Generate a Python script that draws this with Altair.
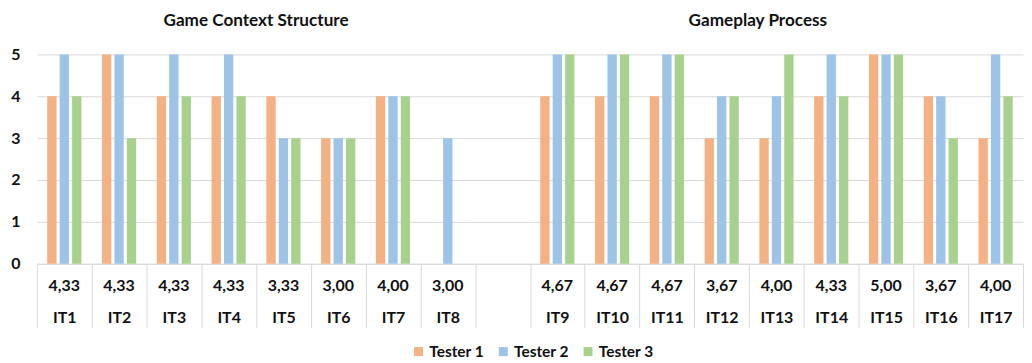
import altair as alt
import pandas as pd

items = ["IT1", "IT2", "IT3", "IT4", "IT5", "IT6", "IT7", "IT8",
         "IT9", "IT10", "IT11", "IT12", "IT13", "IT14", "IT15", "IT16", "IT17"]
tester1 = [4, 5, 4, 4, 4, 3, 4, None, 4, 4, 4, 3, 3, 4, 5, 4, 3]
tester2 = [5, 5, 5, 5, 3, 3, 4, 3, 5, 5, 5, 4, 4, 5, 5, 4, 5]
tester3 = [4, 3, 4, 4, 3, 3, 4, None, 5, 5, 5, 4, 5, 4, 5, 3, 4]
averages = ["4,33", "4,33", "4,33", "4,33", "3,33", "3,00", "4,00", "3,00",
            "4,67", "4,67", "4,67", "3,67", "4,00", "4,33", "5,00", "3,67", "4,00"]
testers = ["Tester 1", "Tester 2", "Tester 3"]
colors = ["#F4B183", "#9DC3E6", "#A9D18E"]
group_titles = ["Game Context Structure", "Gameplay Process"]
group_anchor = ["IT5", "IT13"]
group_band = [0.0, 0.16]

FONT = "Lato"
GRID = "#D9D9D9"
TXT = "#111111"

rows = []
for i, it in enumerate(items):
    for name, vals in zip(testers, [tester1, tester2, tester3]):
        if vals[i] is not None:
            rows.append({"item": it, "tester": name, "score": vals[i]})
bars_df = pd.DataFrame(rows)
avg_df = pd.DataFrame({"item": items, "avg": averages})

domain = items[:8] + [" "] + items[8:]

xscale = alt.Scale(domain=domain, paddingInner=0, paddingOuter=0)
yscale = alt.Scale(domain=[0, 5], nice=False)

bars = alt.Chart(bars_df).mark_bar().encode(
    x=alt.X("item:N", scale=xscale, sort=domain,
            axis=alt.Axis(title=None, tickBand="extent", tickSize=64, tickColor=GRID,
                          tickWidth=1, domainColor=GRID, labelPadding=-10,
                          labelBaseline="middle", labelFont=FONT, labelFontWeight="bold",
                          labelFontSize=16, labelColor=TXT, labelAngle=0, grid=False)),
    xOffset=alt.XOffset("tester:N", sort=testers,
                        scale=alt.Scale(paddingInner=0.25, paddingOuter=0.83)),
    y=alt.Y("score:Q", scale=yscale,
            axis=alt.Axis(title=None, values=[0, 1, 2, 3, 4, 5], domain=False, ticks=False,
                          labelPadding=17, gridColor=GRID, labelFont=FONT,
                          labelFontWeight="bold", labelFontSize=16, labelColor=TXT,
                          format="d")),
    color=alt.Color("tester:N", scale=alt.Scale(domain=testers, range=colors),
                    legend=alt.Legend(title=None, orient="none", legendX=375, legendY=290,
                                      direction="horizontal", symbolType="square",
                                      symbolSize=81, symbolStrokeWidth=0,
                                      labelFont=FONT, labelFontWeight="bold",
                                      labelFontSize=15.5, labelColor=TXT, labelOffset=3,
                                      columnPadding=11)),
)

avg_text = alt.Chart(avg_df).mark_text(font=FONT, fontWeight="bold", fontSize=16,
                                       color=TXT, baseline="middle").encode(
    x=alt.X("item:N", scale=xscale, sort=domain),
    y=alt.YDatum(-0.52, title=None),
    text="avg:N",
)

title_layers = []
for t, a, b in zip(group_titles, group_anchor, group_band):
    tdf = pd.DataFrame({"anchor": [a], "title": [t]})
    title_layers.append(
        alt.Chart(tdf).mark_text(font=FONT, fontWeight="bold", fontSize=17.2,
                                 color=TXT, baseline="middle").encode(
            x=alt.X("anchor:N", scale=xscale, sort=domain, bandPosition=b),
            y=alt.YDatum(5.8, title=None),
            text="title:N",
        )
    )

chart = alt.layer(bars, avg_text, *title_layers).properties(
    width=989, height=210,
    padding={"left": 2, "top": 3, "right": 0, "bottom": 0},
).configure_view(stroke=None)

chart.save("out.html", embed_options={"renderer": "svg", "actions": False})
